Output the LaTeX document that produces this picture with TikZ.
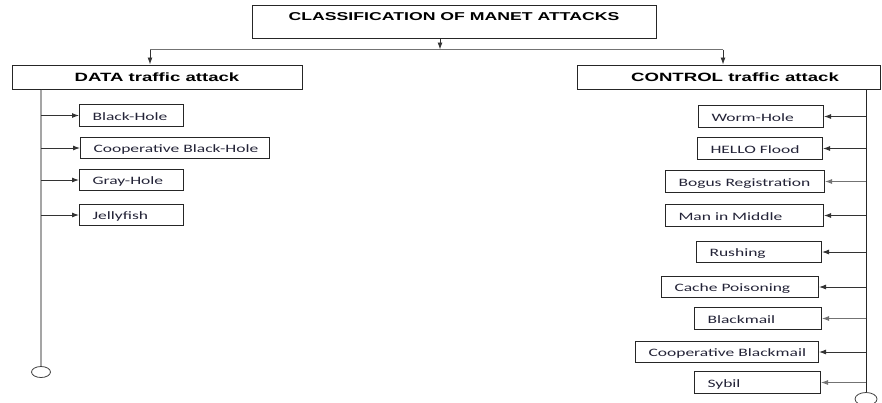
\documentclass[tikz,border=0pt]{standalone}
\usepackage{fontspec}
\usetikzlibrary{shapes.geometric, arrows.meta}
\newfontfamily\headfont[FakeStretch=1.55]{Liberation Sans}
\newfontfamily\itemfont[FakeStretch=1.55]{Carlito}
\definecolor{itemtext}{RGB}{35,35,55}
\definecolor{linegray}{RGB}{165,165,165}
\tikzset{
  mainbox/.style = {draw=black!85, line width=1pt, inner sep=0pt,
                    font=\headfont\bfseries\fontsize{11.4}{13}\selectfont},
  attack/.style  = {draw=black!85, line width=1pt, inner xsep=13pt, inner ysep=0pt,
                    minimum height=21.5pt, text height=10pt, text depth=0.5pt,
                    text=itemtext, font=\itemfont\fontsize{11.3}{13}\selectfont},
  feed/.style    = {->, line width=0.9pt, black!80},
  feedlight/.style = {->, line width=0.9pt, black!55},
  leaf/.style    = {draw=black!75, ellipse, line width=0.8pt, inner sep=0pt}
}
\begin{document}
\begin{tikzpicture} [>={Latex[length=7pt,width=5pt]}, x=1pt, y=-1pt]
		\useasboundingbox (0,0) rectangle (882,402);
		%\draw [thin, help lines] (0,0) grid [step=50] (882,402);
		\node [mainbox, minimum width=404pt, text height=15pt, text depth=18pt] (title) at (454,5) [anchor=north] {CLASSIFICATION OF MANET ATTACKS};
		\node [mainbox, minimum width=290pt, minimum height=24pt, font=\headfont\bfseries\fontsize{12}{14}\selectfont] (data) at (157,77) {DATA traffic attack};
		\node [mainbox, minimum width=303pt, minimum height=24pt, font=\headfont\bfseries\fontsize{12}{14}\selectfont] (ctrl) at (728.5,77) {\hspace*{13pt}CONTROL traffic attack};
		\coordinate (busL) at (150,49.5);
		\coordinate (busM) at (440,49.5);
		\coordinate (busR) at (723,49.5);
		\coordinate (spineL) at (41,0);
		\coordinate (spineR) at (866,0);
		\draw [feed] (title.south -| busM) -- (busM);
		\draw [line width=0.9pt, black!55] (busL) -- (busR);
		\draw [feed] (busL) -- (data.north -| busL);
		\draw [feed] (busR) -- (ctrl.north -| busR);
		% data traffic attacks
		\node [leaf, minimum width=19pt, minimum height=11pt] (endL) at (41,372) {};
		\draw [line width=1.6pt, linegray] (data.south -| spineL) -- (endL.north);
		\node [attack, anchor=west] (bh) at (79,115.5) {\makebox[78pt][l]{Black-Hole}};
		\node [attack, anchor=west] (cbh) at (80,148) {\makebox[163pt][l]{Cooperative Black-Hole}};
		\node [attack, anchor=west] (gh) at (79,180) {\makebox[78pt][l]{Gray-Hole}};
		\node [attack, anchor=west] (jf) at (79,215) {\makebox[78pt][l]{Jellyfish}};
		\draw [feed] (bh.west -| spineL) -- (bh.west);
		\draw [feed] (cbh.west -| spineL) -- (cbh.west);
		\draw [feed] (gh.west -| spineL) -- (gh.west);
		\draw [feed] (jf.west -| spineL) -- (jf.west);
		% control traffic attacks
		\node [leaf, minimum width=22pt, minimum height=13pt] (endR) at (866,399) {};
		\draw [line width=1pt, black!85] (ctrl.south -| spineR) -- (endR.north);
		\node [attack, anchor=east] (wh) at (824,116.5) {\makebox[99pt][l]{Worm-Hole}};
		\node [attack, anchor=east] (hf) at (823,148.5) {\makebox[99pt][l]{HELLO Flood}};
		\node [attack, anchor=east] (br) at (825,181.5) {\makebox[133pt][l]{Bogus Registration}};
		\node [attack, anchor=east] (mim) at (824,215.5) {\makebox[132pt][l]{Man in Middle}};
		\node [attack, anchor=east] (ru) at (822,252) {\makebox[99pt][l]{Rushing}};
		\node [attack, anchor=east] (cp) at (819,287) {\makebox[131pt][l]{Cache Poisoning}};
		\node [attack, anchor=east] (bm) at (822,318.5) {\makebox[101pt][l]{Blackmail}};
		\node [attack, anchor=east] (cbm) at (819,352) {\makebox[157pt][l]{Cooperative Blackmail}};
		\node [attack, anchor=east] (sy) at (821,382.5) {\makebox[100pt][l]{Sybil}};
		\draw [feed] (wh.east -| spineR) -- (wh.east);
		\draw [feed] (hf.east -| spineR) -- (hf.east);
		\draw [feedlight] (br.east -| spineR) -- (br.east);
		\draw [feed] (mim.east -| spineR) -- (mim.east);
		\draw [feed] (ru.east -| spineR) -- (ru.east);
		\draw [feed] (cp.east -| spineR) -- (cp.east);
		\draw [feedlight] (bm.east -| spineR) -- (bm.east);
		\draw [feed] (cbm.east -| spineR) -- (cbm.east);
		\draw [feedlight] (sy.east -| spineR) -- (sy.east);
	\end{tikzpicture}
\end{document}
